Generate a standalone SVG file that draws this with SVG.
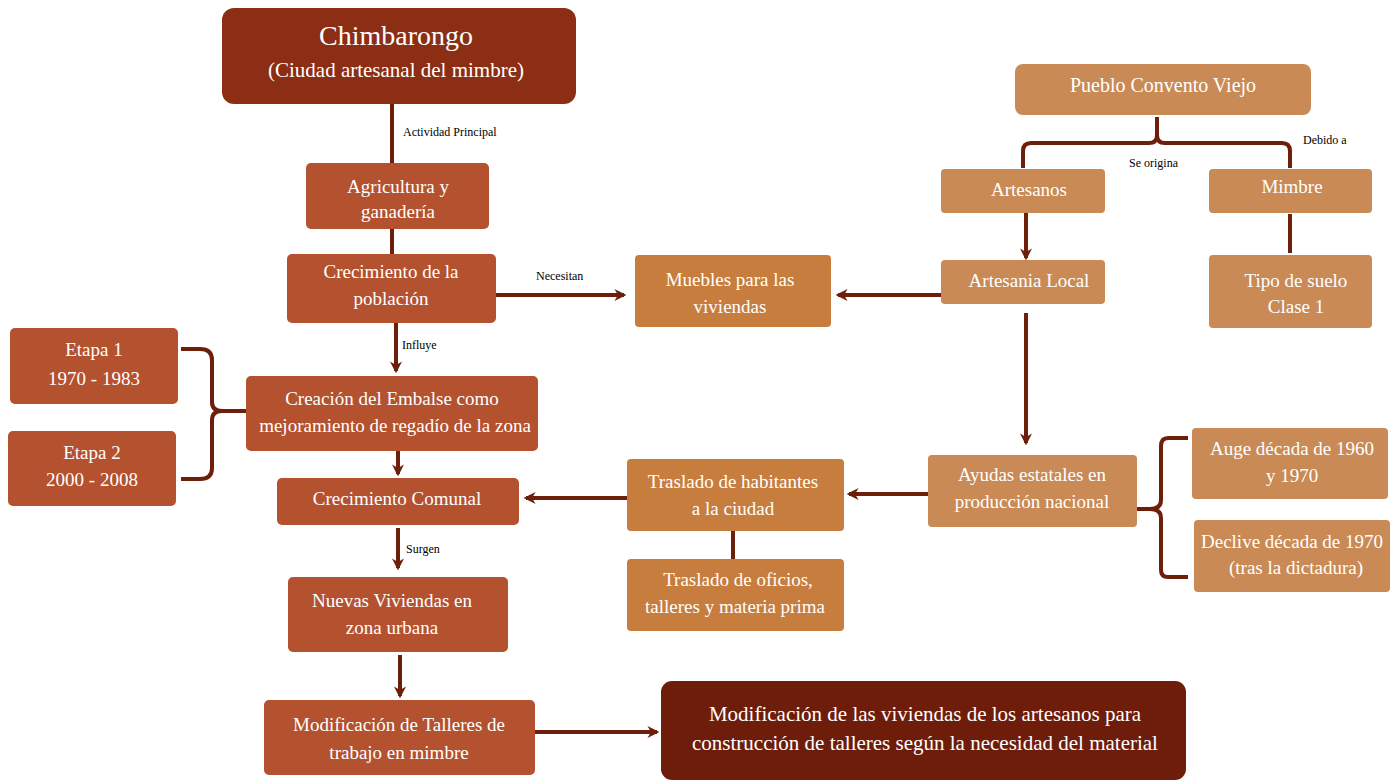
<svg xmlns="http://www.w3.org/2000/svg" width="1399" height="780" viewBox="0 0 1399 780">
<defs>
<marker id="ah" viewBox="0 0 10 10" refX="8" refY="5" markerWidth="3" markerHeight="3.4" orient="auto" markerUnits="strokeWidth">
<path d="M0,0 L10,5 L0,10 L3,5 Z" fill="#6E1F0B"/>
</marker>
<style>
.t{font-family:"Liberation Serif","DejaVu Serif",serif;fill:#fff;text-anchor:middle;font-size:19px}
.l{font-family:"Liberation Serif","DejaVu Serif",serif;fill:#000;font-size:12px}
.red{fill:#B4512F}
.dark{fill:#8B2E13}
.org{fill:#C77D3E}
.tan{fill:#C98A55}
.fin{fill:#6E1D0B}
.c{stroke:#6E1F0B;stroke-width:4;fill:none}
.a{marker-end:url(#ah)}
</style>
</defs>
<rect width="1399" height="780" fill="#fff"/>
<g id="connectors">
<path class="c" d="M392,104 V163"/>
<path class="c" d="M392,229 V254"/>
<path class="c a" d="M496,295 H624"/>
<path class="c a" d="M941,295 H838"/>
<path class="c a" d="M396,323 V371"/>
<path class="c" d="M181,349 H200 Q212,349 212,360 V402 Q212,411 222,411 H246 M222,411 Q212,411 212,420 V468 Q212,479 200,479 H181"/>
<path class="c a" d="M398,451 V474"/>
<path class="c a" d="M627,498 H526"/>
<path class="c a" d="M398,528 V568"/>
<path class="c a" d="M400,655 V696"/>
<path class="c a" d="M535,732 H657"/>
<path class="c" d="M1157,117 V135 Q1157,143 1149,143 H1031 Q1023,143 1023,151 V168 M1157,135 Q1157,143 1165,143 H1282 Q1290,143 1290,151 V168"/>
<path class="c a" d="M1026,213 V258"/>
<path class="c" d="M1290,214 V253"/>
<path class="c a" d="M1026,313 V443"/>
<path class="c a" d="M928,494 H849"/>
<path class="c" d="M733,531 V559"/>
<path class="c" d="M1188,438 H1168 Q1161,438 1161,446 V500 Q1161,509 1150,509 H1137 M1150,509 Q1161,509 1161,518 V570 Q1161,577 1168,577 H1188"/>
<text class="l" x="403" y="136">Actividad Principal</text>
<text class="l" x="536" y="280">Necesitan</text>
<text class="l" x="402" y="349">Influye</text>
<text class="l" x="406" y="553">Surgen</text>
<text class="l" x="1129" y="167">Se origina</text>
<text class="l" x="1303" y="144">Debido a</text>
</g>
<g id="n-chimbarongo">
<rect class="dark" x="222" y="8" width="354" height="96" rx="12"/>
<text class="t" x="396" y="45" style="font-size:28px">Chimbarongo</text>
<text class="t" x="396" y="77" style="font-size:21px">(Ciudad artesanal del mimbre)</text>
</g>
<g id="n-agricultura">
<rect class="red" x="306" y="163" width="183" height="66" rx="5"/>
<text class="t" x="398" y="193">Agricultura y</text>
<text class="t" x="398" y="218">ganadería</text>
</g>
<g id="n-crecimiento-poblacion">
<rect class="red" x="287" y="254" width="209" height="69" rx="5"/>
<text class="t" x="391" y="278">Crecimiento de la</text>
<text class="t" x="391" y="305">población</text>
</g>
<g id="n-muebles">
<rect class="org" x="635" y="255" width="196" height="72" rx="4"/>
<text class="t" x="730" y="286">Muebles para las</text>
<text class="t" x="730" y="313">viviendas</text>
</g>
<g id="n-etapa1">
<rect class="red" x="10" y="328" width="168" height="76" rx="5"/>
<text class="t" x="94" y="356">Etapa 1</text>
<text class="t" x="94" y="385">1970 - 1983</text>
</g>
<g id="n-etapa2">
<rect class="red" x="8" y="431" width="168" height="75" rx="5"/>
<text class="t" x="92" y="459">Etapa 2</text>
<text class="t" x="92" y="486">2000 - 2008</text>
</g>
<g id="n-embalse">
<rect class="red" x="246" y="376" width="292" height="75" rx="5"/>
<text class="t" x="392" y="405">Creación del Embalse como</text>
<text class="t" x="395" y="432">mejoramiento de regadío de la zona</text>
</g>
<g id="n-comunal">
<rect class="red" x="277" y="478" width="242" height="47" rx="5"/>
<text class="t" x="397" y="505">Crecimiento Comunal</text>
</g>
<g id="n-nuevas">
<rect class="red" x="288" y="577" width="220" height="75" rx="5"/>
<text class="t" x="392" y="607">Nuevas Viviendas en</text>
<text class="t" x="392" y="634">zona urbana</text>
</g>
<g id="n-talleres">
<rect class="red" x="264" y="700" width="271" height="75" rx="5"/>
<text class="t" x="399" y="731">Modificación de Talleres de</text>
<text class="t" x="399" y="759">trabajo en mimbre</text>
</g>
<g id="n-final">
<rect class="fin" x="661" y="681" width="525" height="99" rx="11"/>
<text class="t" x="925" y="721" style="font-size:21px">Modificación de las viviendas de los artesanos para</text>
<text class="t" x="925" y="750" style="font-size:21px">construcción de talleres según la necesidad del material</text>
</g>
<g id="n-pueblo">
<rect class="tan" x="1015" y="64" width="296" height="51" rx="8"/>
<text class="t" x="1163" y="92" style="font-size:20px">Pueblo Convento Viejo</text>
</g>
<g id="n-artesanos">
<rect class="tan" x="941" y="169" width="164" height="44" rx="4"/>
<text class="t" x="1029" y="196">Artesanos</text>
</g>
<g id="n-mimbre">
<rect class="tan" x="1209" y="169" width="163" height="44" rx="4"/>
<text class="t" x="1292" y="193">Mimbre</text>
</g>
<g id="n-artesania">
<rect class="tan" x="941" y="260" width="164" height="44" rx="4"/>
<text class="t" x="1029" y="287">Artesania Local</text>
</g>
<g id="n-suelo">
<rect class="tan" x="1209" y="255" width="163" height="73" rx="4"/>
<text class="t" x="1296" y="287">Tipo de suelo</text>
<text class="t" x="1296" y="313">Clase 1</text>
</g>
<g id="n-ayudas">
<rect class="tan" x="928" y="455" width="209" height="72" rx="4"/>
<text class="t" x="1032" y="481">Ayudas estatales en</text>
<text class="t" x="1032" y="508">producción nacional</text>
</g>
<g id="n-traslado-hab">
<rect class="org" x="627" y="459" width="217" height="72" rx="4"/>
<text class="t" x="733" y="488">Traslado de habitantes</text>
<text class="t" x="733" y="515">a la ciudad</text>
</g>
<g id="n-traslado-of">
<rect class="org" x="627" y="559" width="217" height="72" rx="4"/>
<text class="t" x="738" y="586">Traslado de oficios,</text>
<text class="t" x="735" y="613">talleres y materia prima</text>
</g>
<g id="n-auge">
<rect class="tan" x="1192" y="428" width="196" height="71" rx="4"/>
<text class="t" x="1292" y="455">Auge década de 1960</text>
<text class="t" x="1292" y="482">y 1970</text>
</g>
<g id="n-declive">
<rect class="tan" x="1194" y="520" width="196" height="72" rx="4"/>
<text class="t" x="1292" y="548">Declive década de 1970</text>
<text class="t" x="1296" y="574">(tras la dictadura)</text>
</g>
</svg>
